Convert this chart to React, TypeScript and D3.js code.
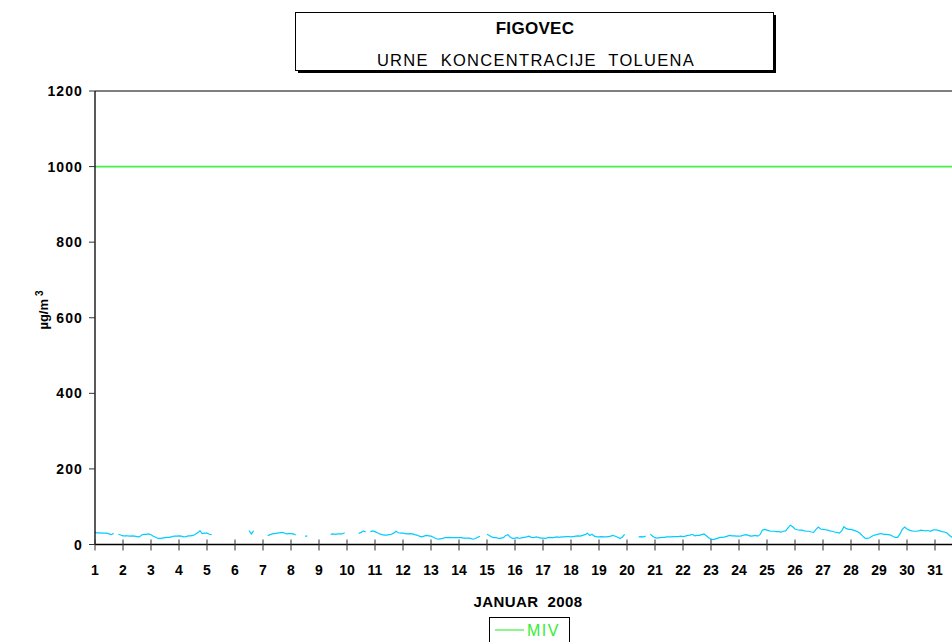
import React from "react";
import * as d3 from "d3";

const dayLabels: number[] = Array.from({ length: 31 }, (_, i) => i + 1);
const yTicks: number[] = [0, 200, 400, 600, 800, 1000, 1200];
const mivLimit = 1000;
const titleMain = "FIGOVEC";
const titleSub = "URNE  KONCENTRACIJE  TOLUENA";
const xTitle = "JANUAR  2008";
const legendLabel = "MIV";

// 2-hourly toluene concentrations (µg/m³), 12 values per day, null = missing
const toluene: (number | null)[] = [
  32, 31, 31, 30, 30, 30, 28, 26, 30, null, 27, 25,
  23, 23, 23, 22, 23, 22, 21, 20, 25, 27, 27, 28,
  26, 22, 19, 16, 16, 17, 18, 19, 19, 21, 22, 22,
  23, 22, 20, 21, 23, 23, 24, 27, 31, 36, 29, 30,
  30, 27, 26, null, null, null, null, null, null, null, null, null,
  null, null, null, null, null, null, 37, 28, 36, null, null, null,
  null, null, 23, 26, 28, 29, 30, 31, 32, 31, 28, 29,
  29, 28, 25, null, null, null, 22, 22, null, null, null, null,
  null, null, null, null, null, 27, 28, 27, 28, 28, 28, 31,
  null, null, null, null, null, 29, 32, 36, 33, null, 34, 36,
  34, 31, 28, 26, 25, 25, 26, 27, 30, 35, 31, 30,
  30, 29, 28, 29, 28, 26, 25, 22, 20, 22, 24, 23,
  22, 19, 16, 14, 15, 16, 18, 18, 19, 18, 18, 18,
  18, 18, 17, 17, 17, 16, 14, 16, 19, 22, null, null,
  27, 24, 20, 18, 18, 16, 17, 18, 24, 26, 19, 16,
  17, 18, 16, 18, 19, 20, 22, 19, 18, 20, 19, 17,
  17, 16, 18, 19, 18, 19, 20, 19, 20, 20, 21, 21,
  20, 21, 22, 23, 22, 24, 26, 30, 24, 27, 22, 20,
  20, 21, 20, 20, 21, 22, 24, 22, 19, 16, 20, 27,
  null, null, null, null, null, 20, 21, 20, 22, null, 27, 22,
  18, 17, 18, 19, 19, 20, 20, 20, 21, 21, 21, 22,
  21, 22, 24, 25, 27, 23, 24, 24, 26, 28, 23, 18,
  14, 13, 15, 17, 19, 19, 20, 22, 24, 23, 23, 22,
  22, 23, 25, 26, 24, 22, 23, 24, 22, 26, 38, 40,
  38, 36, 35, 35, 34, 34, 33, 35, 36, 44, 51, 47,
  41, 39, 38, 38, 36, 35, 35, 33, 32, 40, 46, 41,
  40, 39, 38, 36, 35, 33, 32, 30, 36, 47, 42, 40,
  40, 38, 36, 33, 29, 22, 17, 16, 18, 22, 25, 26,
  28, 29, 27, 27, 26, 25, 21, 19, 19, 28, 40, 46,
  41, 38, 36, 35, 35, 36, 38, 37, 36, 37, 35, 38,
  39, 38, 36, 34, 33, 31, 25, 20, 19, 18, 20, 21,
];

const FONT = "'Liberation Sans', Arial, sans-serif";

export default function App() {
  const W = 952;
  const H = 642;
  const left = 95;
  const right = 963;
  const top = 91;
  const bottom = 544.5;

  const x = d3.scaleLinear().domain([0, 31]).range([left, right]);
  const y = d3.scaleLinear().domain([0, 1200]).range([bottom, top]);

  const pts = toluene.map((v, i) => ({ t: i / 12, v }));
  const line = d3
    .line<{ t: number; v: number | null }>()
    .defined((d) => d.v !== null)
    .x((d) => x(d.t))
    .y((d) => y(d.v as number));

  return (
    <svg
      width={W}
      height={H}
      style={{ position: "absolute", left: 0, top: 0, display: "block", background: "#fff" }}
      fontFamily={FONT}
    >
      {/* title box */}
      <rect x={298} y={15} width={478} height={58} fill="#000" />
      <rect x={295.5} y={12.5} width={478} height={58} fill="#fff" stroke="#000" strokeWidth={1} />
      <text x={535} y={34} textAnchor="middle" fontWeight="bold" fontSize={17} letterSpacing={0.3}>
        {titleMain}
      </text>
      <text x={536} y={65.5} textAnchor="middle" fontSize={16.5} letterSpacing={1.3} style={{ whiteSpace: "pre" }}>
        {titleSub}
      </text>

      {/* plot frame */}
      <line x1={left} x2={right} y1={top} y2={top} stroke="#000" strokeWidth={1} />

      {/* MIV line */}
      <line x1={left} x2={right} y1={y(mivLimit)} y2={y(mivLimit)} stroke="#44ee44" strokeWidth={1.6} />

      {/* data */}
      <path d={line(pts) || ""} fill="none" stroke="#00ccff" strokeWidth={1.2} />

      {/* y axis */}
      <line x1={left} x2={left} y1={top} y2={bottom} stroke="#000" strokeWidth={1.3} />
      {yTicks.map((t) => (
        <g key={t}>
          <line x1={left - 6} x2={left} y1={y(t)} y2={y(t)} stroke="#333" strokeWidth={1} />
          <text x={83} y={y(t) + 5} textAnchor="end" fontWeight="bold" fontSize={14} letterSpacing={1.1}>
            {t}
          </text>
        </g>
      ))}
      <text
        transform={`translate(48,${310}) rotate(-90)`}
        textAnchor="middle"
        fontWeight="bold"
        fontSize={13}
      >
        µg/m
        <tspan dx={3} dy={-5} fontSize={10}>3</tspan>
      </text>

      {/* x axis */}
      <line x1={left} x2={right} y1={bottom} y2={bottom} stroke="#000" strokeWidth={1.3} />
      {dayLabels.map((d) => (
        <g key={d}>
          <line x1={x(d - 1)} x2={x(d - 1)} y1={bottom - 5} y2={bottom + 6} stroke="#333" strokeWidth={1} />
          <text x={x(d - 1)} y={575} textAnchor="middle" fontWeight="bold" fontSize={14}>
            {d}
          </text>
        </g>
      ))}
      <text x={528} y={606.5} textAnchor="middle" fontWeight="bold" fontSize={15} letterSpacing={0.4} style={{ whiteSpace: "pre" }}>
        {xTitle}
      </text>

      {/* legend */}
      <rect x={489.5} y={617.5} width={80} height={30} fill="#fff" stroke="#000" strokeWidth={1} />
      <line x1={495} x2={524} y1={630} y2={630} stroke="#44ee44" strokeWidth={1.2} />
      <text x={527} y={635.5} fontSize={16} fill="#33ee33" letterSpacing={1.5}>
        {legendLabel}
      </text>
    </svg>
  );
}
